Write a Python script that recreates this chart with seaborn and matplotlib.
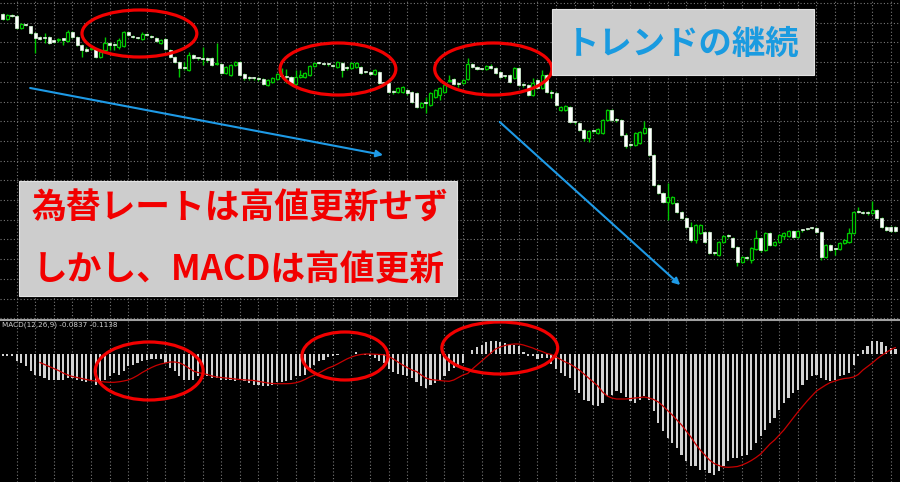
import numpy as np
import pandas as pd
import matplotlib
matplotlib.use("Agg")
import matplotlib.pyplot as plt
from matplotlib.patches import Ellipse, Rectangle
from matplotlib.lines import Line2D
import seaborn as sns

# ============================
# Data: candles (USDJPY-like price)
# ============================
opens = [
    111.86, 111.81, 111.85, 111.84, 111.72, 111.76, 111.74, 111.67, 111.62, 111.62,
    111.63, 111.59, 111.60, 111.61, 111.59, 111.68, 111.63, 111.55, 111.50, 111.51,
    111.51, 111.43, 111.50, 111.57, 111.55, 111.53, 111.54, 111.68, 111.64, 111.63,
    111.61, 111.66, 111.64, 111.62, 111.57, 111.61, 111.50, 111.43, 111.38, 111.32,
    111.30, 111.45, 111.42, 111.42, 111.42, 111.42, 111.36, 111.36, 111.27, 111.25,
    111.35, 111.38, 111.26, 111.22, 111.22, 111.22, 111.21, 111.15, 111.18, 111.21,
    111.24, 111.23, 111.23, 111.16, 111.23, 111.23, 111.25, 111.34, 111.37, 111.36,
    111.36, 111.35, 111.33, 111.37, 111.32, 111.32, 111.33, 111.33, 111.28, 111.28,
    111.26, 111.28, 111.17, 111.17, 111.08, 111.08, 111.08, 111.10, 111.08, 111.07,
    110.93, 110.97, 110.95, 111.03, 111.05, 111.08, 111.19, 111.21, 111.16, 111.17,
    111.21, 111.36, 111.33, 111.31, 111.31, 111.34, 111.32, 111.28, 111.24, 111.25,
    111.22, 111.32, 111.15, 111.15, 111.05, 111.20, 111.12, 111.25, 111.07, 111.07,
    110.90, 110.90, 110.93, 110.78, 110.77, 110.70, 110.62, 110.69, 110.67, 110.67,
    110.80, 110.90, 110.80, 110.80, 110.65, 110.55, 110.55, 110.57, 110.67, 110.72,
    110.45, 110.15, 110.07, 109.98, 109.97, 109.97, 109.88, 109.82, 109.73, 109.60,
    109.67, 109.68, 109.68, 109.47, 109.45, 109.58, 109.64, 109.62, 109.53, 109.38,
    109.42, 109.40, 109.51, 109.62, 109.50, 109.67, 109.55, 109.58, 109.64, 109.64,
    109.69, 109.63, 109.70, 109.71, 109.72, 109.72, 109.68, 109.43, 109.55, 109.51,
    109.51, 109.57, 109.58, 109.67, 109.88, 109.87, 109.87, 109.87, 109.90, 109.82,
    109.73, 109.73, 109.73,
]
closes = [
    111.81, 111.85, 111.84, 111.72, 111.76, 111.75, 111.67, 111.62, 111.615, 111.62,
    111.57, 111.585, 111.61, 111.605, 111.68, 111.63, 111.55, 111.50, 111.495, 111.52,
    111.43, 111.48, 111.57, 111.55, 111.55, 111.60, 111.68, 111.65, 111.63, 111.62,
    111.66, 111.65, 111.63, 111.59, 111.60, 111.51, 111.43, 111.38, 111.32, 111.32,
    111.45, 111.42, 111.42, 111.41, 111.40, 111.35, 111.37, 111.27, 111.33, 111.35,
    111.38, 111.25, 111.22, 111.22, 111.22, 111.21, 111.16, 111.20, 111.22, 111.26,
    111.24, 111.23, 111.17, 111.23, 111.25, 111.27, 111.34, 111.37, 111.37, 111.36,
    111.36, 111.34, 111.38, 111.30, 111.32, 111.37, 111.37, 111.27, 111.28, 111.26,
    111.30, 111.17, 111.17, 111.08, 111.08, 111.12, 111.13, 111.07, 110.98, 110.93,
    110.97, 110.97, 111.07, 111.10, 111.12, 111.15, 111.20, 111.16, 111.16, 111.20,
    111.36, 111.33, 111.31, 111.31, 111.34, 111.32, 111.27, 111.23, 111.24, 111.18,
    111.32, 111.15, 111.15, 111.05, 111.17, 111.12, 111.25, 111.08, 111.07, 110.95,
    110.93, 110.94, 110.78, 110.78, 110.70, 110.62, 110.69, 110.69, 110.71, 110.80,
    110.90, 110.80, 110.80, 110.65, 110.54, 110.55, 110.67, 110.68, 110.72, 110.45,
    110.15, 110.07, 109.98, 110.03, 110.03, 109.88, 109.82, 109.73, 109.60, 109.75,
    109.75, 109.58, 109.47, 109.47, 109.58, 109.64, 109.64, 109.53, 109.38, 109.43,
    109.42, 109.52, 109.62, 109.50, 109.67, 109.55, 109.58, 109.65, 109.67, 109.69,
    109.63, 109.69, 109.70, 109.71, 109.72, 109.68, 109.43, 109.55, 109.50, 109.51,
    109.57, 109.60, 109.67, 109.88, 109.88, 109.87, 109.87, 109.90, 109.82, 109.73,
    109.70, 109.69, 109.69,
]
highs = [
    111.87, 111.86, 111.86, 111.85, 111.77, 111.76, 111.74, 111.68, 111.64, 111.67,
    111.64, 111.60, 111.62, 111.62, 111.70, 111.69, 111.64, 111.56, 111.53, 111.54,
    111.52, 111.50, 111.63, 111.58, 111.57, 111.62, 111.69, 111.69, 111.65, 111.63,
    111.68, 111.67, 111.65, 111.63, 111.61, 111.62, 111.51, 111.44, 111.39, 111.38,
    111.48, 111.46, 111.43, 111.53, 111.43, 111.43, 111.57, 111.37, 111.34, 111.36,
    111.39, 111.39, 111.27, 111.24, 111.23, 111.23, 111.22, 111.21, 111.23, 111.27,
    111.32, 111.31, 111.24, 111.30, 111.30, 111.28, 111.35, 111.38, 111.38, 111.37,
    111.37, 111.36, 111.39, 111.38, 111.34, 111.38, 111.38, 111.34, 111.29, 111.29,
    111.31, 111.29, 111.18, 111.18, 111.10, 111.13, 111.14, 111.11, 111.09, 111.08,
    110.98, 111.03, 111.08, 111.11, 111.13, 111.16, 111.25, 111.22, 111.18, 111.21,
    111.42, 111.37, 111.34, 111.32, 111.35, 111.36, 111.33, 111.29, 111.25, 111.26,
    111.33, 111.33, 111.17, 111.16, 111.22, 111.21, 111.30, 111.26, 111.10, 111.08,
    110.94, 110.95, 110.94, 110.79, 110.78, 110.71, 110.70, 110.70, 110.72, 110.81,
    110.91, 110.91, 110.82, 110.81, 110.67, 110.57, 110.68, 110.69, 110.79, 110.73,
    110.46, 110.16, 110.08, 110.17, 110.04, 109.98, 109.89, 109.83, 109.78, 109.76,
    109.76, 109.69, 109.69, 109.48, 109.59, 109.65, 109.66, 109.63, 109.54, 109.44,
    109.44, 109.53, 109.70, 109.63, 109.68, 109.68, 109.59, 109.66, 109.68, 109.70,
    109.70, 109.70, 109.71, 109.72, 109.73, 109.73, 109.69, 109.56, 109.56, 109.52,
    109.58, 109.61, 109.72, 109.89, 109.93, 109.89, 109.89, 109.99, 109.91, 109.83,
    109.74, 109.74, 109.74,
]
lows = [
    111.80, 111.80, 111.83, 111.71, 111.71, 111.74, 111.66, 111.47, 111.60, 111.57,
    111.56, 111.57, 111.58, 111.55, 111.58, 111.62, 111.54, 111.43, 111.48, 111.50,
    111.42, 111.42, 111.49, 111.50, 111.50, 111.51, 111.53, 111.64, 111.62, 111.61,
    111.60, 111.64, 111.62, 111.58, 111.56, 111.50, 111.42, 111.37, 111.23, 111.30,
    111.29, 111.41, 111.40, 111.35, 111.38, 111.34, 111.35, 111.26, 111.26, 111.24,
    111.34, 111.24, 111.20, 111.20, 111.20, 111.19, 111.15, 111.14, 111.17, 111.20,
    111.22, 111.17, 111.16, 111.15, 111.22, 111.22, 111.24, 111.33, 111.36, 111.35,
    111.34, 111.33, 111.32, 111.23, 111.30, 111.31, 111.32, 111.26, 111.27, 111.25,
    111.25, 111.16, 111.15, 111.07, 111.06, 111.07, 111.07, 111.05, 110.97, 110.92,
    110.92, 110.87, 110.94, 111.02, 111.00, 111.07, 111.18, 111.15, 111.13, 111.16,
    111.20, 111.32, 111.30, 111.30, 111.30, 111.31, 111.26, 111.22, 111.22, 111.17,
    111.21, 111.14, 111.13, 111.04, 111.04, 111.11, 111.11, 111.07, 111.02, 110.94,
    110.89, 110.89, 110.77, 110.76, 110.69, 110.59, 110.58, 110.67, 110.66, 110.66,
    110.79, 110.79, 110.78, 110.64, 110.52, 110.53, 110.54, 110.56, 110.66, 110.44,
    110.14, 110.06, 109.97, 109.80, 109.96, 109.87, 109.81, 109.72, 109.58, 109.57,
    109.66, 109.57, 109.46, 109.45, 109.44, 109.57, 109.62, 109.52, 109.34, 109.37,
    109.40, 109.37, 109.50, 109.48, 109.49, 109.54, 109.54, 109.57, 109.61, 109.63,
    109.62, 109.62, 109.68, 109.70, 109.71, 109.67, 109.40, 109.42, 109.49, 109.45,
    109.50, 109.56, 109.57, 109.66, 109.87, 109.86, 109.85, 109.86, 109.81, 109.72,
    109.69, 109.68, 109.68,
]

# MACD(12,26,9): histogram (main line) and signal line
macd_main = [
    -0.0015, -0.0015, -0.0015, -0.0073, -0.0090, -0.0123, -0.0173, -0.0207, -0.0223, -0.0240,
    -0.0257, -0.0257, -0.0257, -0.0257, -0.0240, -0.0240, -0.0257, -0.0273, -0.0283, -0.0273,
    -0.0307, -0.0273, -0.0257, -0.0223, -0.0190, -0.0207, -0.0173, -0.0123, -0.0107, -0.0090,
    -0.0073, -0.0057, -0.0050, -0.0050, -0.0050, -0.0090, -0.0140, -0.0173, -0.0223, -0.0257,
    -0.0257, -0.0257, -0.0223, -0.0207, -0.0223, -0.0240, -0.0240, -0.0257, -0.0257, -0.0263,
    -0.0273, -0.0257, -0.0273, -0.0290, -0.0307, -0.0307, -0.0323, -0.0323, -0.0307, -0.0283,
    -0.0283, -0.0273, -0.0257, -0.0223, -0.0223, -0.0207, -0.0140, -0.0107, -0.0073, -0.0057,
    -0.0033, -0.0017, -0.0007, -0.0003, -0.0003, 0.0003, 0.0017, -0.0003, -0.0007, -0.0017,
    -0.0040, -0.0073, -0.0090, -0.0150, -0.0183, -0.0197, -0.0207, -0.0223, -0.0240, -0.0283,
    -0.0317, -0.0340, -0.0307, -0.0290, -0.0273, -0.0223, -0.0173, -0.0140, -0.0107, -0.0090,
    -0.0003, 0.0043, 0.0070, 0.0093, 0.0117, 0.0127, 0.0133, 0.0120, 0.0110, 0.0093,
    0.0093, 0.0077, 0.0017, -0.0017, -0.0023, -0.0050, -0.0040, -0.0040, -0.0097, -0.0150,
    -0.0190, -0.0223, -0.0240, -0.0357, -0.0390, -0.0457, -0.0473, -0.0507, -0.0523, -0.0490,
    -0.0423, -0.0407, -0.0373, -0.0390, -0.0430, -0.0473, -0.0490, -0.0457, -0.0423, -0.0457,
    -0.0573, -0.0690, -0.0773, -0.0840, -0.0890, -0.0940, -0.1007, -0.1073, -0.1123, -0.1123,
    -0.1157, -0.1157, -0.1190, -0.1207, -0.1173, -0.1123, -0.1073, -0.1040, -0.1040, -0.1023,
    -0.1007, -0.0957, -0.0890, -0.0823, -0.0757, -0.0690, -0.0640, -0.0557, -0.0490, -0.0440,
    -0.0390, -0.0357, -0.0307, -0.0257, -0.0223, -0.0207, -0.0240, -0.0257, -0.0273, -0.0257,
    -0.0223, -0.0207, -0.0190, -0.0107, -0.0017, 0.0037, 0.0083, 0.0127, 0.0127, 0.0117,
    0.0083, 0.0060, 0.0050,
]
macd_signal = [
    None, None, None, None, None, None, None, None, -0.0085, -0.0105,
    -0.0125, -0.0145, -0.0165, -0.0190, -0.0210, -0.0225, -0.0235, -0.0245, -0.0255, -0.0265,
    -0.0270, -0.0275, -0.0280, -0.0283, -0.0283, -0.0278, -0.0270, -0.0260, -0.0240, -0.0215,
    -0.0185, -0.0160, -0.0135, -0.0115, -0.0100, -0.0090, -0.0080, -0.0080, -0.0088, -0.0110,
    -0.0140, -0.0170, -0.0185, -0.0195, -0.0205, -0.0220, -0.0230, -0.0235, -0.0240, -0.0245,
    -0.0250, -0.0255, -0.0258, -0.0261, -0.0265, -0.0273, -0.0282, -0.0290, -0.0295, -0.0297,
    -0.0297, -0.0297, -0.0295, -0.0288, -0.0275, -0.0255, -0.0230, -0.0210, -0.0190, -0.0165,
    -0.0140, -0.0123, -0.0100, -0.0075, -0.0050, -0.0030, -0.0015, -0.0005, 0.0000, 0.0000,
    -0.0002, -0.0005, -0.0007, -0.0025, -0.0050, -0.0080, -0.0110, -0.0135, -0.0160, -0.0175,
    -0.0210, -0.0240, -0.0255, -0.0260, -0.0265, -0.0270, -0.0273, -0.0260, -0.0235, -0.0210,
    -0.0195, -0.0150, -0.0110, -0.0070, -0.0030, 0.0010, 0.0050, 0.0070, 0.0085, 0.0095,
    0.0100, 0.0100, 0.0090, 0.0075, 0.0060, 0.0040, 0.0025, 0.0005, -0.0005, -0.0030,
    -0.0055, -0.0080, -0.0100, -0.0130, -0.0160, -0.0200, -0.0240, -0.0280, -0.0320, -0.0380,
    -0.0420, -0.0440, -0.0450, -0.0450, -0.0450, -0.0445, -0.0440, -0.0435, -0.0430, -0.0440,
    -0.0455, -0.0480, -0.0520, -0.0565, -0.0610, -0.0660, -0.0710, -0.0770, -0.0830, -0.0900,
    -0.0960, -0.1010, -0.1060, -0.1095, -0.1115, -0.1130, -0.1133, -0.1130, -0.1125, -0.1110,
    -0.1090, -0.1065, -0.1035, -0.1000, -0.0950, -0.0900, -0.0860, -0.0810, -0.0760, -0.0700,
    -0.0640, -0.0580, -0.0525, -0.0470, -0.0420, -0.0370, -0.0340, -0.0310, -0.0285, -0.0270,
    -0.0255, -0.0245, -0.0240, -0.0230, -0.0205, -0.0160, -0.0125, -0.0090, -0.0050, -0.0015,
    0.0015, 0.0045, 0.0065,
]

title_trend = "トレンドの継続"
note_lines = ["為替レートは高値更新せず", "しかし、MACDは高値更新"]
macd_label = "MACD(12,26,9) -0.0837 -0.1138"

df = pd.DataFrame({"open": opens, "high": highs, "low": lows, "close": closes,
                   "macd": macd_main, "signal": macd_signal}, dtype=float)
df["idx"] = np.arange(len(df))

# ============================
# Style
# ============================
sns.set_theme(style="dark")
plt.rcParams["font.family"] = ["Noto Sans CJK JP", "DejaVu Sans"]

W, H = 900, 482
BG = "black"
GRID = "#787878"
GREEN = "#00c800"

fig = plt.figure(figsize=(W / 100, H / 100), dpi=100, facecolor=BG)
ax = fig.add_axes([0, 163 / H, 1, 319 / H])
ax_m = fig.add_axes([0, 0, 1, 161 / H])

xlim = (-0.58, 192.97)
for a in (ax, ax_m):
    a.set_facecolor(BG)
    a.set_xlim(*xlim)
    for s in a.spines.values():
        s.set_visible(False)
    a.set_xticks(np.arange(3, len(df), 4))
    a.tick_params(left=False, bottom=False, labelleft=False, labelbottom=False)
    a.set_axisbelow(True)

ax.set_ylim(108.81, 112.0)
ax.set_yticks(111.97 - 0.197 * np.arange(17))
ax.grid(True, color=GRID, linestyle=(0, (1, 2)), linewidth=0.8)

ax_m.set_ylim(-0.128, 0.033)
ax_m.set_yticks([])
ax_m.grid(True, axis="x", color=GRID, linestyle=(0, (1, 2)), linewidth=0.8)

# ============================
# Candles
# ============================
bull = df["close"] > df["open"]
body_low = df[["open", "close"]].min(axis=1)
body_h = (df["close"] - df["open"]).abs().clip(lower=0.012)

ax.vlines(df["idx"], df["low"], df["high"], color=GREEN, linewidth=1.0, zorder=2)
ax.bar(df.loc[bull, "idx"], body_h[bull], bottom=body_low[bull], width=0.66,
       color=BG, edgecolor=GREEN, linewidth=0.9, zorder=3)
ax.bar(df.loc[~bull, "idx"], body_h[~bull], bottom=body_low[~bull], width=0.66,
       color="white", edgecolor="#e0f8e0", linewidth=0.5, zorder=3)

# ============================
# MACD panel
# ============================
ax_m.bar(df["idx"], df["macd"], width=0.47, color="#d2d2d2", linewidth=0, zorder=2)
sns.lineplot(data=df, x="idx", y="signal", ax=ax_m, color="#c80000", linewidth=0.9, zorder=3)
ax_m.set_xlim(*xlim)
ax_m.set_xlabel("")
ax_m.set_ylabel("")

fig.add_artist(Line2D([0, 1], [1 - 319.5 / H] * 2, color="#a0a0a0", linewidth=1.5))
fig.text(2 / W, 1 - 325 / H, macd_label, color="#cfcfcf", fontsize=5.2,
         va="center", ha="left", family="DejaVu Sans")

# ============================
# Annotations: red ellipses, blue arrows, text boxes
# ============================
RED = "#f20000"
for (cx, cy, w, h) in [(29.4, 111.665, 24.7, 0.47), (72.1, 111.31, 24.9, 0.52),
                       (105.5, 111.31, 25.2, 0.52)]:
    ax.add_patch(Ellipse((cx, cy), w, h, fill=False, edgecolor=RED, linewidth=2.3,
                         zorder=6, clip_on=False))
for (cx, cy, w, h) in [(31.5, -0.017, 23.2, 0.058), (73.6, -0.002, 18.5, 0.048),
                       (106.9, 0.006, 24.9, 0.052)]:
    ax_m.add_patch(Ellipse((cx, cy), w, h, fill=False, edgecolor=RED, linewidth=2.3,
                           zorder=6, clip_on=False))

BLUE = "#1e9ae6"
for start, end in [((5.9, 111.12), (81.8, 110.45)), ((106.9, 110.78), (145.7, 109.15))]:
    ax.annotate("", xy=end, xytext=start,
                arrowprops=dict(arrowstyle="-|>", color=BLUE, lw=1.5, mutation_scale=10,
                                shrinkA=0, shrinkB=0), zorder=5)


def box(x0, y0, x1, y1):
    fig.add_artist(Rectangle((x0 / W, 1 - y1 / H), (x1 - x0) / W, (y1 - y0) / H,
                             transform=fig.transFigure, facecolor="#cdcdcd",
                             edgecolor="#e2e2e2", linewidth=0.8, zorder=7))


box(552, 9, 814, 75)
fig.text(683 / W, 1 - 44 / H, title_trend, color="#1a9be0", fontsize=24,
         fontweight="bold", ha="center", va="center", zorder=8)

box(19, 181, 457, 296)
fig.text(240 / W, 1 - 208 / H, note_lines[0], color=RED, fontsize=25,
         fontweight="bold", ha="center", va="center", zorder=8)
fig.text(239 / W, 1 - 270 / H, note_lines[1], color=RED, fontsize=25,
         fontweight="bold", ha="center", va="center", zorder=8)

fig.savefig("out.png", dpi=100, facecolor=BG)
